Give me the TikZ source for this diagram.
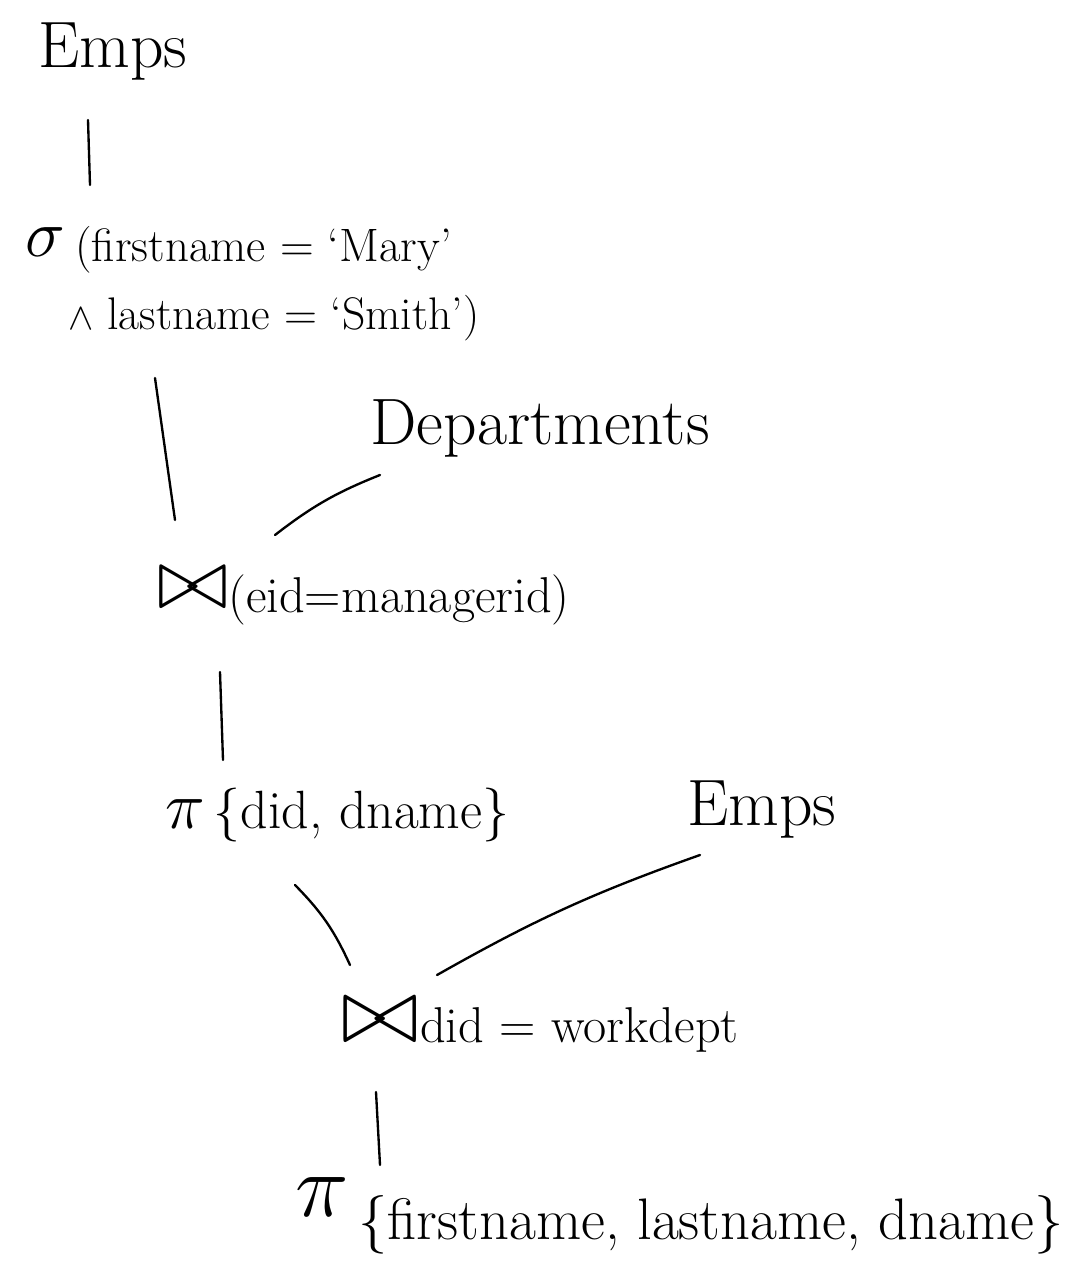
\documentclass[tikz,border=0pt]{standalone}
\usepackage{graphicx}
\usepackage{amssymb}
\newcommand{\symbig}[2]{\scalebox{#1}{$#2$}}
\begin{document}
\begin{tikzpicture}[x=0.03cm,y=-0.03cm,
  lbl/.style={inner sep=0pt, font=\fontsize{34}{40}\selectfont},
  fs/.style={font=\fontsize{#1}{#1}\selectfont},
  big/.style={inner sep=0pt, font=\fontsize{56}{60}\selectfont},
  edge/.style={line width=2pt, line cap=round}]
\useasboundingbox[fill=white] (0,0) rectangle (1072,1266);
\node[big, anchor=west] (emps1) at (38,52) {Emps};
\node[lbl, anchor=west] (sigma) at (25,242) {\symbig{2.3}{\sigma}};
\node[lbl, fs=40, anchor=west] (cond1) at (75,250) {(firstname = `Mary'};
\node[lbl, fs=39, anchor=west] (cond2) at (68,318) {\symbig{1.3}{\wedge}\ lastname = `Smith')};
\node[big, anchor=center] (dept) at (540,428) {Departments};
\node[lbl, anchor=center] (join1) at (193,588) {\symbig{3.0}{\bowtie}};
\node[lbl, fs=43, anchor=west] (join1c) at (228,600) {(eid=managerid)};
\node[lbl, fs=46, anchor=west] (proj1) at (165,815) {\symbig{2.3}{\pi}\,\{did,\ dname\}};
\node[big, anchor=center] (emps2) at (762,810) {Emps};
\node[lbl, anchor=center] (join2) at (380,1020) {\symbig{3.25}{\bowtie}};
\node[lbl, fs=43, anchor=west] (join2c) at (420,1030) {did = workdept};
\node[lbl, anchor=center] (pi2) at (322,1197) {\symbig{3.1}{\pi}};
\node[lbl, fs=50, anchor=west] (proj2c) at (358,1225) {\{firstname,\ lastname,\ dname\}};
\coordinate (a1) at (88,120); \coordinate (a2) at (90,185);
\coordinate (b1) at (155,378); \coordinate (b2) at (175,520);
\coordinate (c1) at (380,475); \coordinate (c2) at (275,535);
\coordinate (d1) at (220,672); \coordinate (d2) at (223,760);
\coordinate (e1) at (295,885); \coordinate (e2) at (350,965);
\coordinate (f1) at (700,855); \coordinate (f2) at (437,975);
\coordinate (g1) at (376,1092); \coordinate (g2) at (380,1165);
\draw[edge] (a1) -- (a2);
\draw[edge] (b1) -- (b2);
\draw[edge] (c1) to[bend right=8] (c2);
\draw[edge] (d1) -- (d2);
\draw[edge] (e1) to[bend left=10] (e2);
\draw[edge] (f1) to[bend right=5] (f2);
\draw[edge] (g1) -- (g2);
\end{tikzpicture}
\end{document}
